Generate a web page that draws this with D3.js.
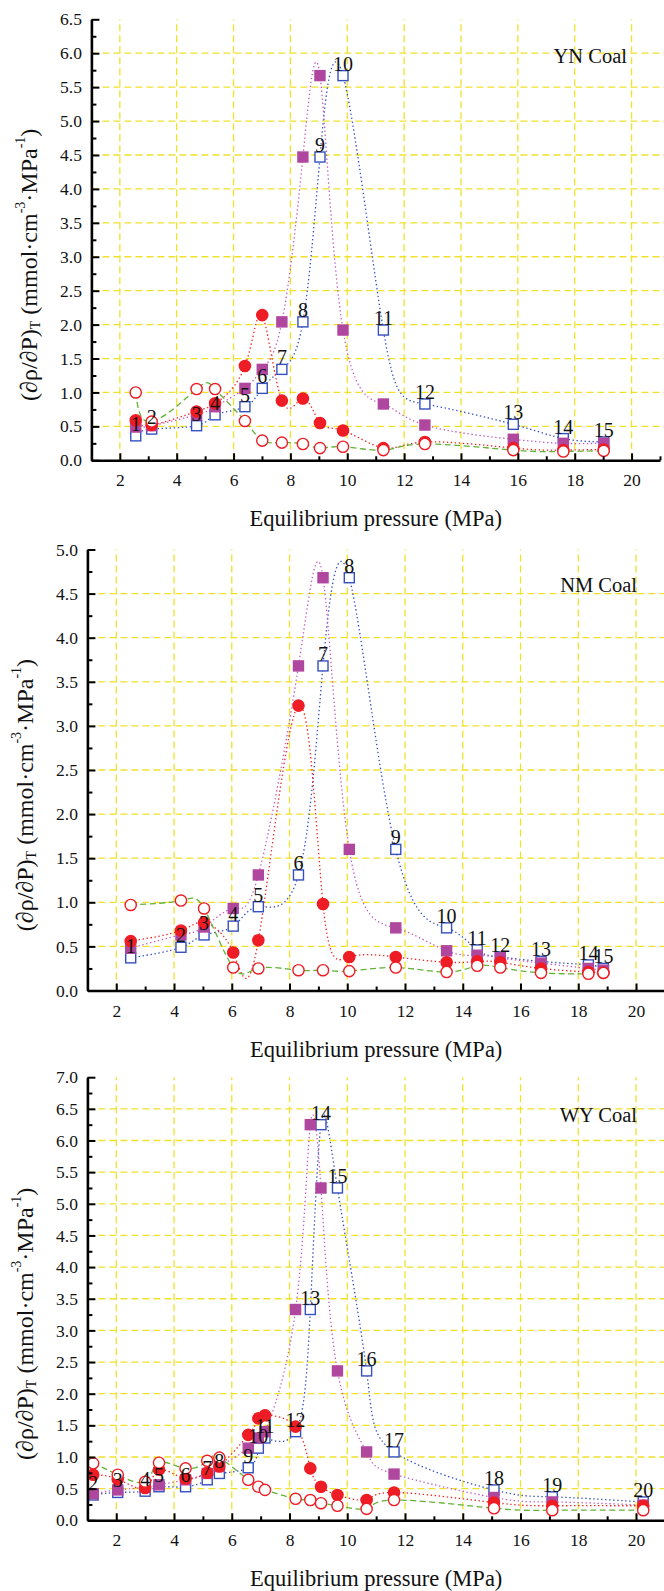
<!DOCTYPE html>
<html>
<head>
<meta charset="utf-8">
<script src="https://cdn.jsdelivr.net/npm/d3@7"></script>
<style>
  html, body { margin: 0; padding: 0; background: #fff; }
  svg { display: block; }
</style>
</head>
<body>
<div id="chart"></div>
<script>
// Three stacked panels (YN, NM, WY coal): (dρ/dP)T against equilibrium pressure.
// Four series per panel, each a smoothed dotted/dashed line with markers.

const X_TICKS = [2, 4, 6, 8, 10, 12, 14, 16, 18, 20];
const X_MINOR = [3, 5, 7, 9, 11, 13, 15, 17, 19, 21];

// ---- YN coal ----
const YN_P       = [2.56, 3.12, 4.70, 5.35, 6.40, 7.01, 7.70, 8.44, 9.04, 9.85, 11.27, 12.73, 15.84, 17.60, 19.02];
const YN_OPEN_SQ = [0.36, 0.46, 0.51, 0.67, 0.79, 1.06, 1.34, 2.04, 4.47, 5.67, 1.92, 0.83, 0.53, 0.32, 0.27];
const YN_FILL_SQ = [0.49, 0.51, 0.67, 0.79, 1.06, 1.34, 2.04, 4.47, 5.67, 1.92, 0.83, 0.52, 0.31, 0.25, 0.25];
const YN_FILL_CI = [0.59, 0.52, 0.72, 0.84, 1.39, 2.14, 0.88, 0.91, 0.55, 0.44, 0.18, 0.27, 0.18, 0.15, 0.16];
const YN_OPEN_CI = [1.00, 0.57, 1.05, 1.05, 0.58, 0.29, 0.26, 0.24, 0.18, 0.20, 0.15, 0.24, 0.15, 0.13, 0.14];
const YN_LABELS  = ["1", "2", "3", "4", "5", "6", "7", "8", "9", "10", "11", "12", "13", "14", "15"];
const YN_Y_TICKS = [0, 0.5, 1, 1.5, 2, 2.5, 3, 3.5, 4, 4.5, 5, 5.5, 6, 6.5];

// ---- NM coal ----
const NM_P       = [2.50, 4.24, 5.04, 6.05, 6.92, 8.31, 9.16, 10.07, 11.68, 13.44, 14.50, 15.30, 16.71, 18.35, 18.87];
const NM_OPEN_SQ = [0.37, 0.49, 0.63, 0.73, 0.95, 1.31, 3.68, 4.68, 1.60, 0.71, 0.46, 0.38, 0.33, 0.29, 0.25];
const NM_FILL_SQ = [0.48, 0.63, 0.72, 0.93, 1.31, 3.68, 4.68, 1.60, 0.71, 0.45, 0.40, 0.37, 0.31, 0.25, 0.23];
const NM_FILL_CI = [0.56, 0.68, 0.77, 0.43, 0.57, 3.23, 0.98, 0.38, 0.38, 0.32, 0.33, 0.32, 0.25, 0.21, 0.20];
const NM_OPEN_CI = [0.97, 1.02, 0.93, 0.26, 0.25, 0.23, 0.23, 0.22, 0.26, 0.21, 0.28, 0.26, 0.20, 0.19, 0.20];
const NM_LABELS  = ["1", "2", "3", "4", "5", "6", "7", "8", "9", "10", "11", "12", "13", "14", "15"];
const NM_Y_TICKS = [0, 0.5, 1, 1.5, 2, 2.5, 3, 3.5, 4, 4.5, 5];

// ---- WY coal ----
const WY_P       = [1.20, 2.05, 3.00, 3.48, 4.40, 5.15, 5.57, 6.57, 6.92, 7.15, 8.21, 8.72, 9.09, 9.66, 10.67, 11.62, 15.08, 17.10, 20.25];
const WY_OPEN_SQ = [0.40, 0.44, 0.46, 0.53, 0.53, 0.64, 0.74, 0.83, 1.14, 1.30, 1.40, 3.33, 6.25, 5.25, 2.36, 1.08, 0.48, 0.37, 0.29];
const WY_FILL_SQ = [0.42, 0.48, 0.52, 0.56, 0.64, 0.74, 0.85, 1.14, 1.30, 1.40, 3.33, 6.25, 5.25, 2.36, 1.08, 0.73, 0.36, 0.29, 0.24];
const WY_FILL_CI = [0.72, 0.65, 0.51, 0.80, 0.66, 0.75, 0.85, 1.35, 1.61, 1.66, 1.48, 0.82, 0.53, 0.40, 0.32, 0.44, 0.28, 0.23, 0.23];
const WY_OPEN_CI = [0.90, 0.72, 0.61, 0.91, 0.82, 0.94, 0.99, 0.64, 0.53, 0.48, 0.34, 0.32, 0.27, 0.23, 0.18, 0.32, 0.19, 0.16, 0.16];
const WY_LABELS  = ["2", "3", "4", "5", "6", "7", "8", "9", "10", "11", "12", "13", "14", "15", "16", "17", "18", "19", "20"];
const WY_Y_TICKS = [0, 0.5, 1, 1.5, 2, 2.5, 3, 3.5, 4, 4.5, 5, 5.5, 6, 6.5, 7];

const W = 664, H = 1591;
const FONT = '"Liberation Serif", "Times New Roman", Times, serif';

const SERIES = [
  { key: "openSq", line: "#3550c0", dash: "1.4,2.6", shape: "square", fill: "#ffffff", stroke: "#3550c0" },
  { key: "fillSq", line: "#c35ec0", dash: "1.4,2.6", shape: "square", fill: "#b0479f", stroke: "#b0479f" },
  { key: "fillCi", line: "#ee2424", dash: "1.4,2.6", shape: "circle", fill: "#ee1c24", stroke: "#ee1c24" },
  { key: "openCi", line: "#62b233", dash: "6,3.5",   shape: "circle", fill: "#ffffff", stroke: "#ee1c24" },
];

const PANELS = [
  { tag: "YN Coal", p: YN_P, openSq: YN_OPEN_SQ, fillSq: YN_FILL_SQ, fillCi: YN_FILL_CI, openCi: YN_OPEN_CI,
    labels: YN_LABELS, yTicks: YN_Y_TICKS,
    xRange: [91.4, 660], yRange: [460.3, 19.3], tagX: 627, tagY: 63, titleX: 29 },
  { tag: "NM Coal", p: NM_P, openSq: NM_OPEN_SQ, fillSq: NM_FILL_SQ, fillCi: NM_FILL_CI, openCi: NM_OPEN_CI,
    labels: NM_LABELS, yTicks: NM_Y_TICKS,
    xRange: [87.4, 664.9], yRange: [990.5, 549.5], tagX: 637, tagY: 592, titleX: 25 },
  { tag: "WY Coal", p: WY_P, openSq: WY_OPEN_SQ, fillSq: WY_FILL_SQ, fillCi: WY_FILL_CI, openCi: WY_OPEN_CI,
    labels: WY_LABELS, yTicks: WY_Y_TICKS,
    xRange: [87.4, 664.9], yRange: [1520.3, 1077.2], tagX: 637, tagY: 1122, titleX: 25 },
];

const svg = d3.select("#chart")
  .append("svg")
    .attr("width", W)
    .attr("height", H)
    .attr("viewBox", `0 0 ${W} ${H}`);

svg.append("rect").attr("width", W).attr("height", H).attr("fill", "#fff");

PANELS.forEach(p => drawPanel(p));

function drawPanel(p) {
  const yTop = p.yTicks[p.yTicks.length - 1];
  const x = d3.scaleLinear().domain([1, 21]).range(p.xRange);
  const y = d3.scaleLinear().domain([0, yTop]).range(p.yRange);
  const g = svg.append("g");

  // yellow dashed grid
  g.selectAll(".hgrid")
    .data(p.yTicks.filter(v => v > 0 && v < yTop))
    .join("line")
      .attr("x1", p.xRange[0]).attr("x2", W)
      .attr("y1", d => y(d)).attr("y2", d => y(d))
      .attr("stroke", "#f0e22c")
      .attr("stroke-width", 1.3)
      .attr("stroke-dasharray", "7,4");

  g.selectAll(".vgrid")
    .data(X_TICKS)
    .join("line")
      .attr("x1", d => x(d)).attr("x2", d => x(d))
      .attr("y1", y(0)).attr("y2", y(yTop))
      .attr("stroke", "#f0e22c")
      .attr("stroke-width", 1.3)
      .attr("stroke-dasharray", "7,4");

  // smoothed connecting lines
  SERIES.forEach(s => {
    const pts = p.p.map((v, i) => [v, p[s.key][i]]);
    const lineFn = d3.line()
      .x(d => x(d[0]))
      .y(d => y(d[1]))
      .curve(d3.curveNatural);
    g.append("path")
      .datum(pts)
      .attr("d", lineFn)
      .attr("fill", "none")
      .attr("stroke", s.line)
      .attr("stroke-width", 1.3)
      .attr("stroke-dasharray", s.dash);
  });

  // markers
  SERIES.forEach(s => {
    const pts = p.p.map((v, i) => [v, p[s.key][i]]);
    if (s.shape === "square") {
      g.selectAll(null)
        .data(pts)
        .join("rect")
          .attr("x", d => x(d[0]) - 5)
          .attr("y", d => y(d[1]) - 5)
          .attr("width", 10)
          .attr("height", 10)
          .attr("fill", s.fill)
          .attr("stroke", s.stroke)
          .attr("stroke-width", 1.4);
    } else {
      g.selectAll(null)
        .data(pts)
        .join("circle")
          .attr("cx", d => x(d[0]))
          .attr("cy", d => y(d[1]))
          .attr("r", 5.6)
          .attr("fill", s.fill)
          .attr("stroke", s.stroke)
          .attr("stroke-width", 1.4);
    }
  });

  // point numbers above the open squares
  g.selectAll(".num")
    .data(p.labels)
    .join("text")
      .attr("x", (d, i) => x(p.p[i]))
      .attr("y", (d, i) => y(p.openSq[i]) - 5)
      .attr("text-anchor", "middle")
      .attr("font-family", FONT)
      .attr("font-size", "20px")
      .attr("fill", "#111")
      .text(d => d);

  // axes, ticks pointing inward
  const xAxisG = g.append("g")
    .attr("transform", `translate(0,${y(0)})`)
    .call(d3.axisBottom(x).tickValues(X_TICKS).tickSize(-7).tickSizeOuter(0).tickFormat(d3.format("d")));
  g.append("g")
    .attr("transform", `translate(0,${y(0)})`)
    .call(d3.axisBottom(x).tickValues(X_MINOR).tickSize(-4).tickSizeOuter(0).tickFormat(""))
    .call(a => a.select(".domain").remove());

  xAxisG.select(".domain").attr("stroke", "#000").attr("stroke-width", 2.6);
  xAxisG.selectAll(".tick text")
    .attr("y", 26).attr("dy", null)
    .attr("font-family", FONT).attr("font-size", "17.5px").attr("fill", "#111");

  const minorY = p.yTicks.slice(1).map((v, i) => (v + p.yTicks[i]) / 2);
  const yAxisG = g.append("g")
    .attr("transform", `translate(${p.xRange[0]},0)`)
    .call(d3.axisLeft(y).tickValues(p.yTicks).tickSize(-8).tickSizeOuter(0).tickPadding(9.5).tickFormat(d3.format(".1f")));
  g.append("g")
    .attr("transform", `translate(${p.xRange[0]},0)`)
    .call(d3.axisLeft(y).tickValues(minorY).tickSize(-5).tickSizeOuter(0).tickFormat(""))
    .call(a => a.select(".domain").remove());

  yAxisG.select(".domain").attr("stroke", "#000").attr("stroke-width", 2.6);
  yAxisG.selectAll(".tick text")
    .attr("font-family", FONT).attr("font-size", "17.5px").attr("fill", "#111");

  g.selectAll(".tick line").attr("stroke", "#000").attr("stroke-width", 2);

  // x axis title
  g.append("text")
    .attr("x", (p.xRange[0] + p.xRange[1]) / 2)
    .attr("y", y(0) + 66)
    .attr("text-anchor", "middle")
    .attr("font-family", FONT)
    .attr("font-size", "22.5px")
    .attr("fill", "#111")
    .text("Equilibrium pressure (MPa)");

  // y axis title with sub/superscripts
  const yc = (p.yRange[0] + p.yRange[1]) / 2 + 25;
  const yt = g.append("text")
    .attr("transform", `translate(${p.titleX},${yc}) rotate(-90)`)
    .attr("text-anchor", "middle")
    .attr("dominant-baseline", "central")
    .attr("font-family", FONT)
    .attr("font-size", "24px")
    .attr("fill", "#111");
  yt.append("tspan").text("(∂ρ/∂P)");
  yt.append("tspan").attr("font-size", "14px").attr("dy", "6").text("T");
  yt.append("tspan").attr("dy", "-6").text(" (mmol·cm");
  yt.append("tspan").attr("font-size", "14px").attr("dy", "-9").text("-3");
  yt.append("tspan").attr("dy", "9").text("·MPa");
  yt.append("tspan").attr("font-size", "14px").attr("dy", "-9").text("-1");
  yt.append("tspan").attr("dy", "9").text(")");

  // coal tag
  g.append("text")
    .attr("x", p.tagX)
    .attr("y", p.tagY)
    .attr("text-anchor", "end")
    .attr("font-family", FONT)
    .attr("font-size", "20.5px")
    .attr("fill", "#111")
    .text(p.tag);
}
</script>
</body>
</html>
